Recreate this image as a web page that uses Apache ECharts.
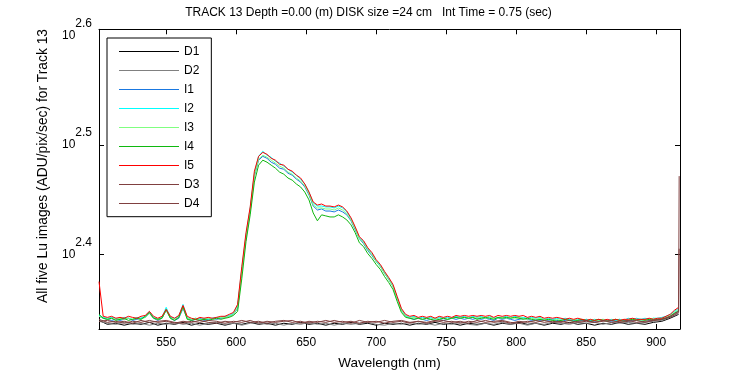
<!DOCTYPE html>
<html>
<head>
<meta charset="utf-8">
<script src="https://cdn.jsdelivr.net/npm/echarts@6/dist/echarts.min.js"></script>
<style>html,body{margin:0;padding:0;background:#fff}#c{width:750px;height:375px}</style>
</head>
<body>
<div id="c"></div>
<script>
// Wavelength grids (nm)
const wl = [502,505,508,511,514,517,520,523,526,529,532,535,538,541,544,547,550,553,556,559,562,565,568,571,574,577,580,583,586,589,592,595,598,601,604,607,610,613,616,619,622,625,628,631,634,637,640,643,646,649,652,655,658,661,664,667,670,673,676,679,682,685,688,691,694,697,700,703,706,709,712,715,718,721,724,727,730,733,736,739,742,745,748,751,754,757,760,763,766,769,772,775,778,781,784,787,790,793,796,799,802,805,808,811,814,817,820,823,826,829,832,835,838,841,844,847,850,853,856,859,862,865,868,871,874,877,880,883,886,889,892,895,898,901,904,907,910,913,916];
const wlDark = [502,508,514,520,526,532,538,544,550,556,562,568,574,580,586,592,598,604,610,616,622,628,634,640,646,652,658,664,670,676,682,688,694,700,706,712,718,724,730,736,742,748,754,760,766,772,778,784,790,796,802,808,814,820,826,832,838,844,850,856,862,868,874,880,886,892,898,904,910,916];
const spikeWl = 916.4;

// Lu values (ADU/pix/sec)
const I1 = [220.5,219.6,219.1,218.6,219.1,218.6,219.1,219.6,218.6,219.1,
219.6,220.0,221.9,219.6,218.6,219.6,223.3,219.6,218.6,219.6,
224.2,219.6,218.6,219.1,219.6,218.6,219.1,219.6,219.1,219.6,
220.0,220.5,221.4,224.2,242.3,260.1,275.2,296.2,306.3,308.8,
307.5,305.0,303.7,301.2,300.5,298.0,296.8,294.3,292.5,289.5,
284.6,278.1,275.8,276.4,275.2,275.2,274.7,275.8,274.7,273.0,
269.6,264.5,259.6,256.9,253.2,250.5,247.4,244.8,241.3,238.2,
234.8,229.0,223.3,220.5,219.6,219.1,219.6,219.1,218.6,219.1,
219.6,219.1,218.6,219.1,219.6,219.1,219.6,219.1,219.6,219.1,
219.6,219.1,219.6,219.1,218.6,219.6,219.1,219.6,219.1,218.6,
219.1,219.6,219.1,218.6,219.1,218.6,219.1,218.6,219.1,218.6,
218.2,218.6,219.1,218.6,218.2,218.6,219.1,218.6,218.2,218.6,
219.1,218.6,218.2,218.6,219.1,218.6,218.2,218.6,219.1,218.6,
219.1,218.6,219.1,219.1,219.6,219.6,220.5,221.9,223.3];
const I2 = [220.9,220.0,219.6,220.0,219.6,219.1,220.0,219.6,219.1,220.0,
219.6,220.5,222.8,220.0,219.1,220.0,224.7,220.0,219.6,220.5,
226.1,220.0,219.1,219.6,219.1,219.6,219.1,219.6,220.0,220.0,
220.5,220.9,221.9,225.6,243.8,261.8,277.0,298.0,308.8,312.1,
309.5,308.2,305.6,304.4,302.5,300.5,298.7,296.8,294.3,291.3,
286.4,279.9,278.1,278.1,277.6,277.6,277.0,278.1,277.0,274.7,
270.7,265.7,260.1,258.0,254.2,251.6,247.9,245.4,241.8,238.7,
235.3,229.4,223.7,220.9,220.0,220.5,219.6,220.0,219.6,220.0,
219.1,220.0,219.6,220.0,219.6,220.5,220.0,220.5,219.6,220.5,
220.0,220.5,219.6,220.5,219.6,220.0,220.0,220.5,219.6,220.5,
220.0,220.0,219.6,220.0,219.6,220.0,219.1,219.6,219.1,219.6,
219.1,219.6,219.1,218.6,219.1,218.6,219.1,218.6,219.1,218.6,
219.1,218.6,219.1,218.6,219.1,218.6,219.6,219.1,219.6,219.1,
219.6,219.1,219.6,219.6,220.0,220.5,221.4,222.8,224.2];
const I3 = [220.5,219.6,219.1,219.6,219.1,219.6,219.1,219.6,219.1,219.6,
219.1,220.0,221.9,219.6,219.1,219.6,223.3,219.6,219.1,220.0,
224.7,219.6,219.1,219.6,219.1,219.1,219.6,219.1,219.6,220.0,
220.0,220.5,221.4,224.7,242.8,260.7,275.8,296.8,306.9,309.5,
308.2,306.3,304.4,302.5,301.2,298.7,297.4,295.0,293.1,290.1,
285.2,278.7,277.0,277.0,276.4,276.4,275.8,277.0,275.8,273.5,
270.1,265.1,259.6,257.4,253.7,251.0,247.4,244.8,241.3,238.2,
234.8,229.0,223.3,220.5,219.6,220.0,219.6,219.1,219.6,219.1,
219.6,219.1,219.6,219.1,219.6,220.0,219.6,220.0,219.6,220.0,
219.6,220.0,219.6,220.0,219.6,219.6,220.0,219.6,220.0,219.6,
220.0,219.6,219.1,219.6,219.1,219.6,219.1,219.1,218.6,219.1,
218.6,219.1,218.6,219.1,218.6,219.1,218.6,219.1,218.6,218.6,
219.1,218.6,218.6,219.1,218.6,219.1,218.6,219.1,219.1,218.6,
219.1,219.1,219.6,219.1,219.6,220.0,220.9,222.3,223.7];
const I4 = [221.4,219.6,219.1,219.6,218.6,219.1,219.6,218.6,219.1,219.6,
219.1,220.5,222.3,219.6,219.1,219.6,223.7,219.6,218.6,220.0,
225.1,219.1,218.6,219.1,218.6,219.1,218.6,219.1,219.6,219.1,
219.6,220.0,220.9,222.8,238.7,258.0,273.0,292.5,303.1,306.3,
305.0,303.1,301.2,298.7,297.4,295.0,293.7,291.3,289.5,286.4,
281.7,274.1,269.6,273.0,272.4,271.8,271.8,273.0,271.8,270.1,
267.3,262.9,257.4,255.3,251.6,249.0,245.9,243.3,239.7,236.7,
233.3,227.5,222.3,220.0,219.6,219.1,219.6,219.1,219.6,219.1,
218.6,219.1,219.6,219.1,219.6,220.0,219.6,220.0,219.6,220.0,
219.1,219.6,220.0,219.6,219.1,220.0,219.6,220.0,219.6,220.0,
219.6,219.1,219.6,219.1,218.6,219.1,218.6,219.1,218.6,218.2,
218.6,219.1,218.6,218.2,218.6,219.1,218.6,218.2,218.6,219.1,
218.6,218.2,218.6,219.1,218.6,218.2,218.6,219.1,218.6,219.1,
218.6,219.1,218.6,219.1,219.1,219.6,220.5,221.9,222.8];
const I5 = [237.2,220.5,220.0,220.5,219.6,220.0,219.6,220.5,220.0,219.6,
220.5,220.9,222.8,220.5,219.6,220.5,223.7,220.5,219.6,220.9,
225.6,220.5,219.6,219.1,220.0,219.6,220.0,219.6,220.0,220.5,
220.5,221.4,222.3,226.1,244.8,262.9,277.6,299.3,308.8,311.4,
310.1,307.5,306.3,303.7,303.1,300.5,299.3,296.8,295.0,291.3,
286.4,280.5,278.7,279.3,278.1,278.1,277.6,278.7,277.6,275.2,
271.3,266.2,260.7,258.5,254.7,252.1,248.4,245.9,242.3,239.2,
235.8,229.9,224.2,221.4,220.5,220.9,220.0,220.5,220.0,220.5,
219.6,220.5,220.0,220.5,220.0,220.9,220.5,220.9,220.5,220.9,
220.5,220.9,220.5,220.9,220.0,220.9,220.5,220.9,220.5,220.9,
220.5,220.9,220.0,220.5,220.0,220.5,219.6,220.0,219.6,220.0,
219.6,219.1,219.6,219.1,219.6,219.1,218.6,219.1,218.6,219.1,
218.6,219.1,218.6,219.1,218.6,219.1,219.1,219.6,219.1,219.1,
219.1,219.6,219.1,219.6,219.6,220.5,221.4,223.3,224.7];
const D1 = [218.6,216.8,217.3,216.4,217.3,216.8,217.7,216.4,217.3,216.8,
217.7,216.4,217.3,216.8,217.3,216.4,217.3,216.8,217.7,216.8,
217.3,216.4,217.3,216.8,217.7,216.8,217.3,216.4,217.3,216.8,
217.7,216.8,217.3,216.4,217.3,216.8,217.3,216.4,217.3,216.8,
217.7,216.8,217.3,216.4,217.3,216.8,217.3,216.4,217.3,216.8,
217.7,216.8,217.3,216.4,217.3,216.8,217.7,216.8,217.3,216.4,
217.3,216.8,217.7,216.8,217.3,216.8,217.7,218.2,219.6,221.4];
const D2 = [218.2,217.3,216.8,217.7,216.8,217.3,216.4,217.3,216.8,217.7,
216.8,217.3,216.4,217.3,217.7,216.8,217.3,216.4,217.3,217.7,
216.8,217.3,216.4,217.3,216.8,217.7,216.8,217.3,216.4,217.3,
216.8,217.3,217.7,216.8,216.4,217.3,216.8,217.7,216.8,217.3,
216.4,217.3,216.8,217.7,216.8,216.4,217.3,216.8,217.7,216.8,
217.3,216.4,217.3,216.8,217.7,217.3,216.8,217.7,217.3,217.7,
216.8,217.7,217.3,217.7,217.3,217.7,218.2,218.6,220.0,221.9];
const D3 = [219.1,217.7,218.2,217.3,218.2,217.7,218.6,217.7,218.2,217.3,
218.2,217.7,218.6,217.7,217.3,218.2,217.7,218.6,217.7,218.2,
217.3,218.2,218.6,217.7,218.2,217.3,218.2,217.7,218.6,217.7,
218.2,217.3,218.2,217.7,218.6,217.7,218.2,217.3,218.2,217.7,
218.6,217.7,218.2,217.3,218.2,217.7,218.6,217.7,218.2,217.3,
218.2,217.7,218.6,217.7,218.2,217.7,218.6,217.7,218.2,217.7,
218.6,217.7,218.2,218.6,217.7,218.2,218.6,219.1,220.5,222.8,
296.2];
const D4 = [218.2,218.6,217.7,218.2,217.3,218.6,217.7,218.2,218.6,217.7,
217.3,218.2,217.7,218.6,218.2,217.3,218.2,217.7,218.6,217.3,
218.2,217.7,218.2,218.6,217.3,218.2,217.7,218.6,217.7,218.2,
217.3,218.6,217.7,218.2,217.3,218.2,218.6,217.7,218.2,217.3,
218.2,218.6,217.7,218.2,217.3,218.6,217.7,218.2,218.6,217.7,
217.3,218.2,217.7,218.6,217.7,218.2,217.3,218.2,218.6,217.7,
218.2,218.6,217.7,218.2,218.6,217.7,218.6,219.1,220.0,222.3,
254.2];

const xTicks = [550,600,650,700,750,800,850,900];
const yTickExp = [2.4, 2.5, 2.6];
const names = ['D1','D2','I1','I2','I3','I4','I5','D3','D4'];
const colors = ['#000000','#808080','#1a78e0','#00ffff','#80ff80','#10b810','#ff0000','#804040','#804040'];

const wlDarkSpike = wlDark.concat([spikeWl]);
function pairs(xs, ys){ return ys.map((v,i)=>[xs[i], Math.log10(v)]); }
const seriesData = {
  D1: pairs(wlDark, D1), D2: pairs(wlDark, D2),
  I1: pairs(wl, I1), I2: pairs(wl, I2), I3: pairs(wl, I3), I4: pairs(wl, I4), I5: pairs(wl, I5),
  D3: pairs(wlDarkSpike, D3), D4: pairs(wlDarkSpike, D4)
};

const FONT = '"Liberation Sans", Arial, sans-serif';
const chart = echarts.init(document.getElementById('c'), null, {renderer:'canvas'});
const xMin = 502, xMax = 917, yMin = 2.3318, yMax = 2.6058;
chart.setOption({
  animation: false,
  backgroundColor: '#fff',
  textStyle: {fontFamily: FONT, color: '#000'},
  grid: {left: 99, right: 70, top: 29.3, bottom: 44.3, containLabel: false},
  graphic: [
    {type:'text', x: 368.5, y: 13, style:{text:'TRACK 13 Depth =0.00 (m) DISK size =24 cm   Int Time = 0.75 (sec)', font:'12px '+FONT, fill:'#000', textAlign:'center', textVerticalAlign:'middle'}},
    {type:'text', x: 43, y: 166, rotation: Math.PI/2, style:{text:'All five Lu images (ADU/pix/sec) for Track 13', font:'13.8px '+FONT, fill:'#000', textAlign:'center', textVerticalAlign:'middle'}}
  ],
  legend: {
    orient: 'vertical', left: 107, top: 38,
    data: names.map(n => ({name: n, icon: 'rect'})),
    itemWidth: 60, itemHeight: 1, itemGap: 7, itemTextGap: 7,
    padding: [7.5, 12, 7.2, 12],
    borderColor: '#000', borderWidth: 1, backgroundColor: '#fff',
    textStyle: {fontSize: 12, color: '#000', fontFamily: FONT},
    selectedMode: false
  },
  xAxis: [{
    type: 'value', min: xMin, max: xMax,
    name: 'Wavelength (nm)', nameLocation: 'middle', nameGap: 27,
    nameTextStyle: {fontSize: 13.5, color: '#000', fontFamily: FONT},
    axisLine: {show: true, lineStyle: {color: '#000', width: 1}},
    axisTick: {show: true, inside: true, length: 5, customValues: xTicks, lineStyle: {color: '#000'}},
    axisLabel: {show: true, customValues: xTicks, margin: 8, fontSize: 12, color: '#000', fontFamily: FONT},
    splitLine: {show: false}
  },{
    type: 'value', min: xMin, max: xMax, position: 'top',
    axisLine: {show: true, onZero: false, lineStyle: {color: '#000', width: 1}},
    axisTick: {show: true, inside: true, length: 5, customValues: xTicks, lineStyle: {color: '#000'}},
    axisLabel: {show: false},
    splitLine: {show: false}
  }],
  yAxis: [{
    type: 'value', min: yMin, max: yMax,
    axisLine: {show: true, onZero: false, lineStyle: {color: '#000', width: 1}},
    axisTick: {show: true, inside: true, length: 5, customValues: [2.4, 2.5], lineStyle: {color: '#000'}},
    axisLabel: {
      show: true, customValues: yTickExp, margin: 7, color: '#000', fontFamily: FONT, fontSize: 12,
      formatter: v => '{b|10}{s|' + v.toFixed(1) + '}',
      rich: {
        b: {fontSize: 12, fontFamily: FONT, color: '#000'},
        s: {fontSize: 12, fontFamily: FONT, color: '#000', padding: [0, 0, 24, 0]}
      }
    },
    splitLine: {show: false}
  },{
    type: 'value', min: yMin, max: yMax, position: 'right',
    axisLine: {show: true, onZero: false, lineStyle: {color: '#000', width: 1}},
    axisTick: {show: true, inside: true, length: 5, customValues: [2.4, 2.5], lineStyle: {color: '#000'}},
    axisLabel: {show: false},
    splitLine: {show: false}
  }],
  series: names.map((n, i) => ({
    name: n, type: 'line', xAxisIndex: 0, yAxisIndex: 0,
    data: seriesData[n],
    symbol: 'none', showSymbol: false,
    lineStyle: {color: colors[i], width: 1},
    itemStyle: {color: colors[i]},
    emphasis: {disabled: true},
    silent: true
  }))
});
</script>
</body>
</html>
